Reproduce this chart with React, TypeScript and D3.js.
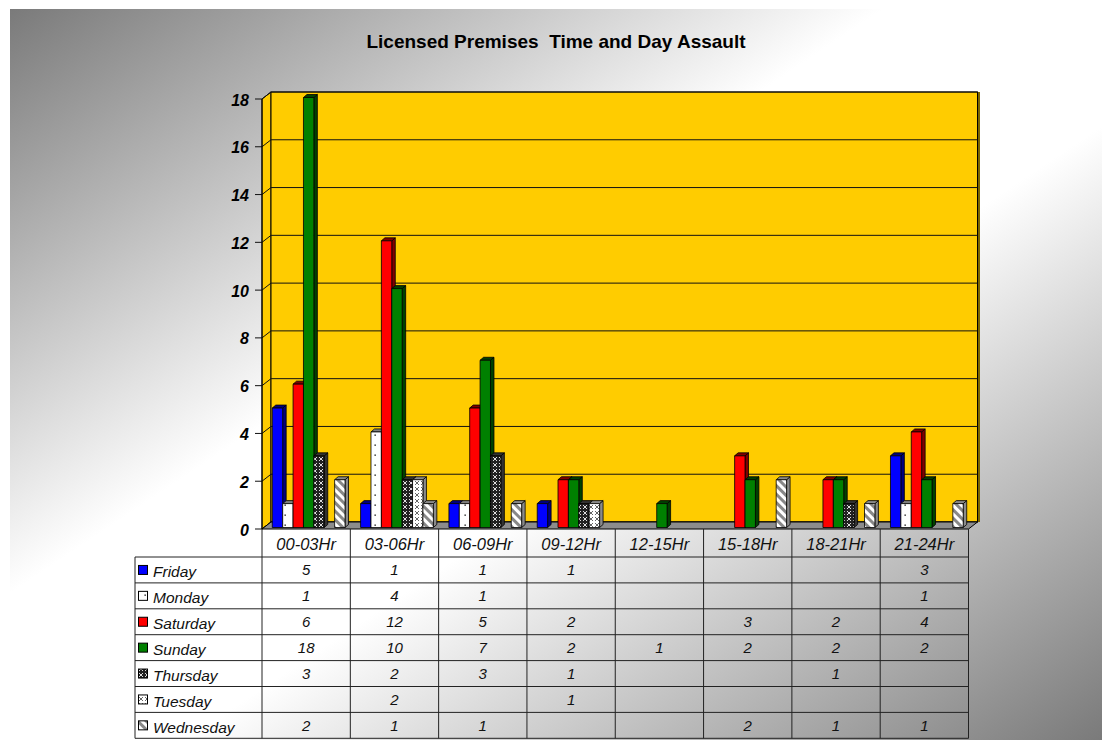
import React from 'react';
import * as d3 from 'd3';

const categories = ['00-03Hr', '03-06Hr', '06-09Hr', '09-12Hr', '12-15Hr', '15-18Hr', '18-21Hr', '21-24Hr'];
const seriesNames = ['Friday', 'Monday', 'Saturday', 'Sunday', 'Thursday', 'Tuesday', 'Wednesday'];

const friday = [5, 1, 1, 1, null, null, null, 3];
const monday = [1, 4, 1, null, null, null, null, 1];
const saturday = [6, 12, 5, 2, null, 3, 2, 4];
const sunday = [18, 10, 7, 2, 1, 2, 2, 2];
const thursday = [3, 2, 3, 1, null, null, 1, null];
const tuesday = [null, 2, null, 1, null, null, null, null];
const wednesday = [2, 1, 1, null, null, 2, 1, 1];

const yTicks = [0, 2, 4, 6, 8, 10, 12, 14, 16, 18];

const allValues = [friday, monday, saturday, sunday, thursday, tuesday, wednesday];

// front face fill, darker fill for side/top
const fills = ['#0000ff', 'url(#dots)', '#ff0000', '#008000', 'url(#darkCross)', 'url(#lightCross)', 'url(#stripes)'];
const darks = ['#000080', '#808080', '#800000', '#004000', '#333333', '#8a8a8a', '#8a8a8a'];

const FONT = 'Arial, "Liberation Sans", sans-serif';

// 3D offsets
const DX = 9;
const DY = -7;
const BDX = 3.5;
const BDY = -3;

export default function App() {
  const left = 262;
  const right = 968.5;
  const top = 99;
  const base = 529;

  const x = d3.scaleBand<string>().domain(categories).range([left, right]);
  const xs = d3
    .scaleBand<string>()
    .domain(seriesNames)
    .range([0, x.bandwidth()])
    .paddingInner(0)
    .paddingOuter(0.75);
  const y = d3.scaleLinear().domain([0, 18]).range([base, top]);

  const rowTop = 557;
  const rowH = 25.9;
  const legendLeft = 135;

  const bars: React.ReactNode[] = [];
  categories.forEach((cat, ci) => {
    seriesNames.forEach((s, si) => {
      const v = allValues[si][ci];
      if (v == null) return;
      const bx = (x(cat) as number) + (xs(s) as number) + 2.5;
      const w = xs.bandwidth();
      const yb = y(0) - 1.5;
      const yt = y(v) - 1.5;
      const key = `${ci}-${si}`;
      bars.push(
        <g key={key} stroke="#000" strokeWidth={0.8} strokeLinejoin="round">
          <polygon
            points={`${bx + w},${yb} ${bx + w + BDX},${yb + BDY} ${bx + w + BDX},${yt + BDY} ${bx + w},${yt}`}
            fill={darks[si]}
          />
          <polygon
            points={`${bx},${yt} ${bx + BDX},${yt + BDY} ${bx + w + BDX},${yt + BDY} ${bx + w},${yt}`}
            fill={darks[si]}
          />
          <rect x={bx} y={yt} width={w} height={yb - yt} fill={fills[si]} />
        </g>
      );
    });
  });

  return (
    <svg
      width={1111}
      height={742}
      style={{ position: 'absolute', left: 0, top: 0, fontFamily: FONT }}
    >
      <defs>
        <linearGradient id="bg" x1="0" y1="0" x2="1" y2="1">
          <stop offset="0" stopColor="#7a7a7a" />
          <stop offset="0.4" stopColor="#ffffff" />
          <stop offset="0.58" stopColor="#ffffff" />
          <stop offset="1" stopColor="#7a7a7a" />
        </linearGradient>
        <pattern id="dots" width="10" height="10" patternUnits="userSpaceOnUse">
          <rect width="10" height="10" fill="#fff" />
          <rect x="4.5" y="4.5" width="1.3" height="1.3" fill="#000" />
        </pattern>
        <pattern id="darkCross" width="6" height="6" patternUnits="userSpaceOnUse">
          <rect width="6" height="6" fill="#222" />
          <path d="M1,1 L5,5 M5,1 L1,5" stroke="#ddd" strokeWidth="1" />
        </pattern>
        <pattern id="lightCross" width="6" height="6" patternUnits="userSpaceOnUse">
          <rect width="6" height="6" fill="#fff" />
          <path d="M1,1 L5,5 M5,1 L1,5" stroke="#666" strokeWidth="1" />
        </pattern>
        <pattern
          id="stripes"
          width="6"
          height="6"
          patternUnits="userSpaceOnUse"
          patternTransform="rotate(-45)"
        >
          <rect width="6" height="6" fill="#fff" />
          <rect width="3" height="6" fill="#888" />
        </pattern>
      </defs>

      <rect x={10} y={9} width={1092} height={731} fill="url(#bg)" />

      <text
        x={556}
        y={48}
        textAnchor="middle"
        fontSize={19}
        fontWeight="bold"
        style={{ whiteSpace: 'pre' }}
      >
        Licensed Premises  Time and Day Assault
      </text>

      {/* walls */}
      <polygon
        points={`${left},${top} ${left + DX},${top + DY} ${left + DX},${base + DY} ${left},${base}`}
        fill="#ffcc00"
        stroke="#000"
      />
      <rect
        x={left + DX}
        y={top + DY}
        width={right - left}
        height={base - top}
        fill="#ffcc00"
        stroke="#000"
      />
      <line
        x1={right + DX + 1.5}
        x2={right + DX + 1.5}
        y1={top + DY}
        y2={base + DY}
        stroke="#7a6400"
        strokeWidth={2}
      />
      {yTicks.map(t => (
        <g key={t} stroke="#111" strokeWidth={1}>
          <line x1={left + DX} x2={right + DX} y1={y(t) + DY} y2={y(t) + DY} />
          <line x1={left} x2={left + DX} y1={y(t)} y2={y(t) + DY} />
          <line x1={left - 7} x2={left} y1={y(t)} y2={y(t)} />
        </g>
      ))}
      {yTicks.map(t => (
        <text
          key={t}
          x={249}
          y={y(t) + 1}
          textAnchor="end"
          dominantBaseline="central"
          fontSize={16}
          fontWeight="bold"
          fontStyle="italic"
        >
          {t}
        </text>
      ))}

      {/* floor */}
      <polygon
        points={`${left},${base} ${right},${base} ${right + DX},${base + DY} ${left + DX},${base + DY}`}
        fill="#8c8c8c"
        stroke="#000"
      />
      <line x1={left} x2={left} y1={top} y2={base} stroke="#000" />

      {bars}

      {/* data table */}
      <g stroke="#222" strokeWidth={1} fill="none">
        {categories.map(c => (
          <line key={c} x1={x(c)} x2={x(c)} y1={base} y2={rowTop + rowH * 7} />
        ))}
        <line x1={right} x2={right} y1={base} y2={rowTop + rowH * 7} />
        <line x1={legendLeft} x2={legendLeft} y1={rowTop} y2={rowTop + rowH * 7} />
        {d3.range(8).map(i => (
          <line key={i} x1={legendLeft} x2={right} y1={rowTop + rowH * i} y2={rowTop + rowH * i} />
        ))}
      </g>
      {categories.map(c => (
        <text
          key={c}
          x={(x(c) as number) + x.bandwidth() / 2}
          y={544}
          textAnchor="middle"
          dominantBaseline="central"
          fontSize={16.5}
          fontStyle="italic"
          fill="#111"
        >
          {c}
        </text>
      ))}
      {seriesNames.map((s, si) => {
        const cy = rowTop + rowH * si + rowH / 2;
        return (
          <g key={s}>
            <rect
              x={138.5}
              y={cy - 4.5}
              width={9}
              height={9}
              fill={fills[si]}
              stroke="#000"
              strokeWidth={1}
            />
            <text
              x={153}
              y={cy + 2}
              dominantBaseline="central"
              fontSize={15.5}
              fontStyle="italic"
              fill="#111"
            >
              {s}
            </text>
            {categories.map((c, ci) => {
              const v = allValues[si][ci];
              if (v == null) return null;
              return (
                <text
                  key={c}
                  x={(x(c) as number) + x.bandwidth() / 2}
                  y={cy}
                  textAnchor="middle"
                  dominantBaseline="central"
                  fontSize={15}
                  fontStyle="italic"
                  fill="#111"
                >
                  {v}
                </text>
              );
            })}
          </g>
        );
      })}
    </svg>
  );
}
